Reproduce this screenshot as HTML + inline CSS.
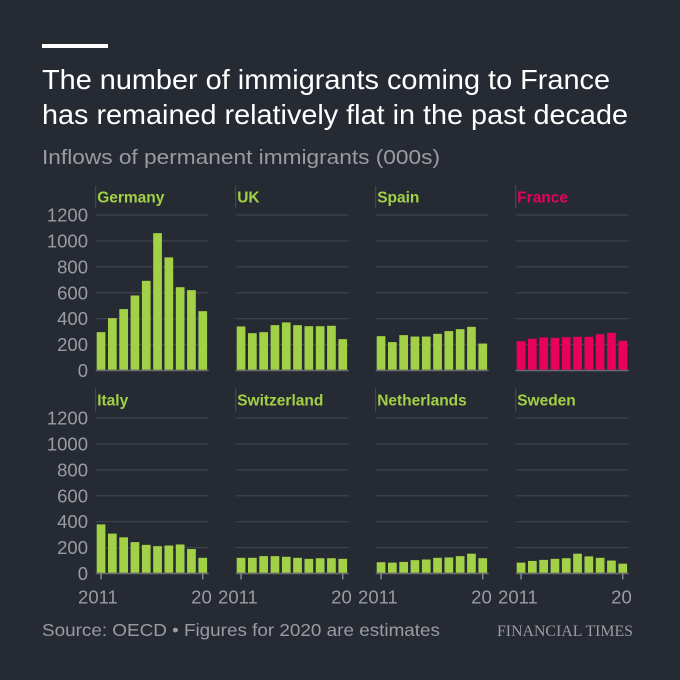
<!DOCTYPE html>
<html><head><meta charset="utf-8"><style>
body{margin:0;background:#262a33;}
svg{display:block;font-family:"Liberation Sans",sans-serif;}
</style></head><body>
<svg id="chart" width="680" height="680" viewBox="0 0 680 680">
<rect width="680" height="680" fill="#262a33"/>
<rect x="42" y="44" width="66" height="4" fill="#ffffff"/>
<text x="42" y="89" fill="#ffffff" font-size="27.5" textLength="568" lengthAdjust="spacingAndGlyphs">The number of immigrants coming to France</text>
<text x="42" y="124" fill="#ffffff" font-size="27.5" textLength="586" lengthAdjust="spacingAndGlyphs">has remained relatively flat in the past decade</text>
<text x="42" y="164" fill="#9a9ca2" font-size="20.5" textLength="398" lengthAdjust="spacingAndGlyphs">Inflows of permanent immigrants (000s)</text>
<text x="42" y="636" fill="#9a9ca2" font-size="17.5" textLength="398" lengthAdjust="spacingAndGlyphs">Source: OECD • Figures for 2020 are estimates</text>
<text x="633" y="636" text-anchor="end" fill="#9a9ca2" font-size="15.5" font-family="Liberation Serif,serif" textLength="136" lengthAdjust="spacingAndGlyphs">FINANCIAL TIMES</text>
<g id="panels"></g>
</svg>
<script>
const countries = ["Germany","UK","Spain","France","Italy","Switzerland","Netherlands","Sweden"];
const years = [2011,2012,2013,2014,2015,2016,2017,2018,2019,2020];
const germany = [296,404,474,579,692,1060,873,643,620,458];
const uk = [340,288,296,350,371,350,342,342,345,242];
const spain = [265,219,273,262,262,283,304,319,337,208];
const france = [226,245,255,252,257,260,260,280,291,229];
const italy = [379,308,279,242,221,211,216,224,189,121];
const switzerland = [121,121,134,134,129,121,113,118,118,113];
const netherlands = [87,84,89,103,108,121,124,134,153,118];
const sweden = [84,97,105,113,118,153,132,121,100,76];
const yTicks = [0,200,400,600,800,1000,1200];
const seriesList = [germany,uk,spain,france,italy,switzerland,netherlands,sweden];

const NS="http://www.w3.org/2000/svg";
const g=document.getElementById("panels");
function mk(t,a){const e=document.createElementNS(NS,t);for(const k in a)e.setAttribute(k,a[k]);return e;}
const pw=113, step=11.3, bw=8.7;
function yScale(v,base){return base - v*(155.5/1200);}
function xScale(i,x0){return x0+1+i*step;}
seriesList.forEach((data,p)=>{
  const col=p%4,row=Math.floor(p/4);
  const x0=95.7+col*140, base=row===0?370.5:573.5;
  const isFr=countries[p]==="France";
  const color=isFr?"#e8005a":"#a2d147";
  const pg=mk("g",{});
  
  
  g.appendChild(pg);
  const vl=mk("line",{x1:x0,x2:x0,y1:base-185,y2:base-162,stroke:"#4a4e57","stroke-width":1});
  
  
  pg.appendChild(vl);
  const lbl=mk("text",{x:x0+1.5,y:base-168,fill:color,"font-size":15.5,"font-weight":"bold"});
  lbl.textContent=countries[p];
  
  
  pg.appendChild(lbl);
  yTicks.forEach(t=>{
    const y=yScale(t,base);
    const gl=mk("line",{x1:x0,x2:x0+pw,y1:y,y2:y,stroke:t===0?"#6a6d74":"#40444d","stroke-width":t===0?1.5:1.2});
    
    
    pg.appendChild(gl);
    if(col===0){
      const tl=mk("text",{x:88,y:y+6.5,"text-anchor":"end",fill:"#9a9ca2","font-size":18.5});
      tl.textContent=t;
      
      
      pg.appendChild(tl);
    }
  });
  data.forEach((v,i)=>{
    const y=yScale(v,base);
    const r=mk("rect",{x:xScale(i,x0),y:y,width:bw,height:base-y-0.8,fill:color});
    
    
    pg.appendChild(r);
  });
  if(row===1){
    [0,years.length-1].forEach((i,k)=>{
      const cx=xScale(i,x0)+bw/2;
      const tk=mk("line",{x1:cx,x2:cx,y1:base,y2:base+6,stroke:"#9a9ca2","stroke-width":1.2});
      
      
      pg.appendChild(tk);
      const tl=mk("text",{x:k===0?cx-23:cx+9,y:base+30,fill:"#9a9ca2","font-size":18.5,"text-anchor":k===0?"start":"end"});
      tl.textContent=k===0?String(years[i]):String(years[i]).slice(2);
      
      
      pg.appendChild(tl);
    });
  }
});
</script>
</body></html>
